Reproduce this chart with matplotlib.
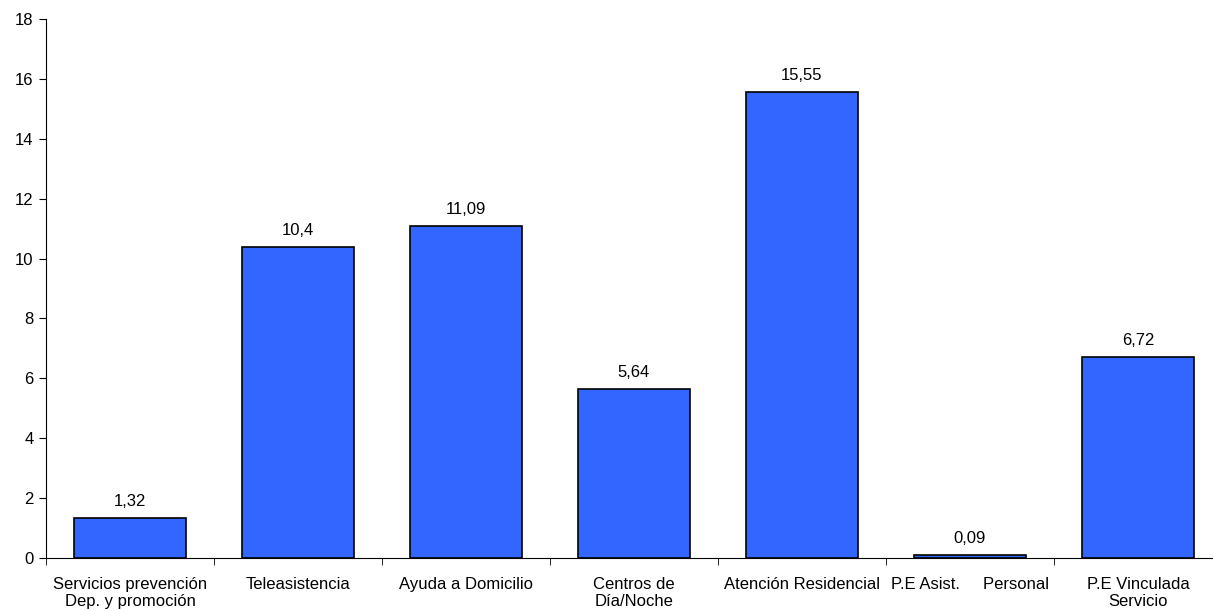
import numpy as np
import matplotlib
matplotlib.use("Agg")
import matplotlib.pyplot as plt

plt.rcParams['font.family'] = ['Liberation Sans', 'DejaVu Sans']

# Data
categorias = ['Servicios prevención\nDep. y promoción', 'Teleasistencia',
              'Ayuda a Domicilio', 'Centros de\nDía/Noche',
              'Atención Residencial', 'P.E Asist.     Personal',
              'P.E Vinculada\nServicio']
valores = [1.32, 10.4, 11.09, 5.64, 15.55, 0.09, 6.72]
etiquetas = ['1,32', '10,4', '11,09', '5,64', '15,55', '0,09', '6,72']

fig = plt.figure(figsize=(12.13, 6.11), dpi=100)
ax = fig.add_axes([46/1213, 1 - 558/611, (1222 - 46)/1213, (558 - 19)/611])

x = np.arange(len(valores))
ax.bar(x, valores, width=0.667, color='#3366FF', edgecolor='black', linewidth=1.2)

for xi, v, lab in zip(x, valores, etiquetas):
    ax.text(xi, v + 0.4, lab, ha='center', va='baseline', fontsize=12)

ax.set_xlim(-0.5, len(valores) - 0.5)
ax.set_ylim(0, 18)
ax.set_yticks(np.arange(0, 19, 2))
ax.tick_params(axis='y', labelsize=12, length=5, direction='out', pad=4)

# category labels centred, tick marks on the boundaries
ax.set_xticks(x)
ax.set_xticklabels(categorias, fontsize=12, linespacing=1.14)
ax.tick_params(axis='x', which='major', length=0, pad=14)
ax.set_xticks(np.arange(-0.5, len(valores) + 0.5, 1), minor=True)
ax.tick_params(axis='x', which='minor', length=5, direction='out')

ax.spines['top'].set_visible(False)
ax.spines['right'].set_visible(False)

fig.savefig("out.png", dpi=100)
